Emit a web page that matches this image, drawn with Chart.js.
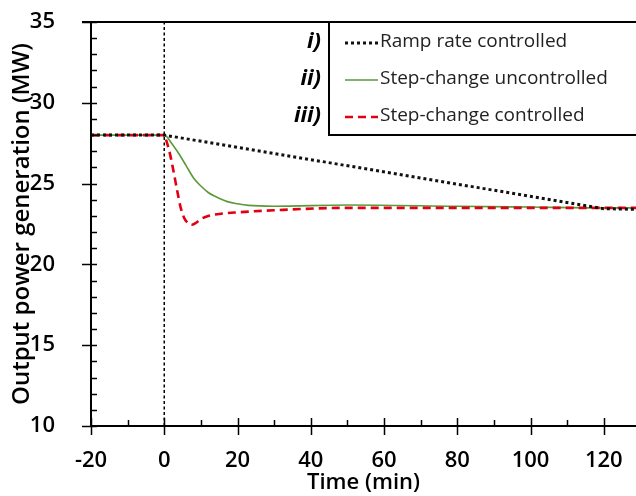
<!DOCTYPE html>
<html>
<head>
    <title>Output power generation</title>
    <script src="https://cdn.jsdelivr.net/npm/chart.js"></script>
    <style>
        html, body { margin: 0; padding: 0; background: #ffffff; }
        #wrap { width: 636px; height: 496px; }
    </style>
</head>
<body>
<div id="wrap"><canvas id="power-chart" width="636" height="496"></canvas></div>
<script>
    // values
    var rampTime = [-20, 0, 120, 130];
    var rampPower = [28, 28, 23.45, 23.4];

    var uncontrolledTime = [-20, 0, 0.5, 2, 4, 6, 8, 10, 12, 14, 17, 20, 23, 30, 50, 80, 100, 120, 130];
    var uncontrolledPower = [28, 28, 27.95, 27.5, 26.85, 26.1, 25.35, 24.85, 24.45, 24.2, 23.9, 23.75, 23.65, 23.6, 23.68, 23.6, 23.55, 23.5, 23.5];

    var controlledTime = [-20, 0, 0.5, 1.5, 2.5, 3.5, 4.5, 5.5, 6.5, 7.5, 8.5, 10, 12, 15, 20, 30, 50, 80, 100, 120, 130];
    var controlledPower = [28, 28, 27.7, 26.9, 25.8, 24.6, 23.5, 22.85, 22.55, 22.45, 22.55, 22.8, 23.0, 23.12, 23.22, 23.35, 23.5, 23.5, 23.5, 23.5, 23.5];

    var markerTime = [0, 0];
    var markerPower = [10, 35];

    var legendNumbers = ['i)', 'ii)', 'iii)'];
    var legendLabels = ['Ramp rate controlled', 'Step-change uncontrolled', 'Step-change controlled'];

    function toPoints(xs, ys) {
        return xs.map(function (x, i) { return { x: x, y: ys[i] }; });
    }

    var FONT = "'Open Sans', 'Noto Sans', sans-serif";

    // minor/major tick marks, top border and the boxed legend
    var decorations = {
        id: 'decorations',
        afterDraw: function (chart) {
            var ctx = chart.ctx;
            var area = chart.chartArea;
            var xs = chart.scales.x;
            var ys = chart.scales.y;
            ctx.save();
            ctx.strokeStyle = '#000';
            ctx.lineWidth = 1.5;

            // y ticks: every 1 minor (inside), every 5 major (across)
            for (var v = ys.min; v <= ys.max; v++) {
                var py = Math.round(ys.getPixelForValue(v)) + 0.5;
                var major = v % 5 === 0;
                ctx.beginPath();
                ctx.moveTo(area.left - (major ? 9 : 0), py);
                ctx.lineTo(area.left + 6, py);
                ctx.stroke();
            }
            // x ticks: every 10 minor (inside), every 20 major (across)
            for (var t = xs.min; t <= xs.max; t += 10) {
                var px = Math.round(xs.getPixelForValue(t)) + 0.5;
                var majorX = t % 20 === 0;
                ctx.beginPath();
                ctx.moveTo(px, area.bottom - (majorX ? 8 : 6));
                ctx.lineTo(px, area.bottom + (majorX ? 9 : 0));
                ctx.stroke();
            }

            // top border of the plot
            ctx.lineWidth = 2;
            ctx.beginPath();
            ctx.moveTo(area.left - 9, area.top);
            ctx.lineTo(area.right, area.top);
            ctx.stroke();

            // legend box
            var boxLeft = 329, boxTop = area.top, boxBottom = 135;
            ctx.beginPath();
            ctx.moveTo(chart.width + 5, boxBottom);
            ctx.lineTo(boxLeft, boxBottom);
            ctx.lineTo(boxLeft, boxTop);
            ctx.stroke();

            var rows = [42, 79, 116];
            var styles = chart.data.datasets;
            var order = [2, 0, 1];
            ctx.textBaseline = 'middle';
            for (var i = 0; i < rows.length; i++) {
                var ds = styles[order[i]];
                ctx.font = 'italic bold 22px ' + FONT;
                ctx.textAlign = 'right';
                ctx.fillStyle = '#000';
                ctx.fillText(legendNumbers[i], 321, rows[i]);

                ctx.save();
                ctx.strokeStyle = ds.borderColor;
                ctx.lineWidth = ds.borderWidth;
                ctx.setLineDash(ds.borderDash || []);
                ctx.beginPath();
                ctx.moveTo(345, rows[i] + 1);
                ctx.lineTo(378, rows[i] + 1);
                ctx.stroke();
                ctx.restore();

                ctx.font = '19px ' + FONT;
                ctx.textAlign = 'left';
                ctx.fillStyle = '#222';
                ctx.fillText(legendLabels[i], 380, rows[i]);
            }
            ctx.restore();
        }
    };

    var ctx = document.getElementById('power-chart').getContext('2d');
    var powerChart = new Chart(ctx, {
        type: 'line',
        data: {
            datasets: [{
                label: legendLabels[1],
                data: toPoints(uncontrolledTime, uncontrolledPower),
                borderColor: '#5a9a3a',
                borderWidth: 1.6,
                cubicInterpolationMode: 'monotone',
                pointRadius: 0,
                order: 3
            }, {
                label: legendLabels[2],
                data: toPoints(controlledTime, controlledPower),
                borderColor: '#e00012',
                borderWidth: 2.6,
                borderDash: [8, 5],
                cubicInterpolationMode: 'monotone',
                pointRadius: 0,
                order: 2
            }, {
                label: legendLabels[0],
                data: toPoints(rampTime, rampPower),
                borderColor: '#111',
                borderWidth: 3,
                borderDash: [3, 3],
                tension: 0,
                pointRadius: 0,
                order: 1
            }, {
                label: 'marker',
                data: toPoints(markerTime, markerPower),
                borderColor: '#000',
                borderWidth: 1.5,
                borderDash: [3, 2.5],
                pointRadius: 0,
                order: 4
            }]
        },
        options: {
            responsive: false,
            animation: false,
            layout: { padding: 0 },
            plugins: {
                legend: { display: false },
                tooltip: { enabled: false }
            },
            scales: {
                x: {
                    type: 'linear',
                    min: -20,
                    max: 128.8,
                    afterFit: function (scale) {
                        scale.height = 70;
                        scale.paddingLeft = 0;
                        scale.paddingRight = 0;
                    },
                    grid: { display: false },
                    border: { display: true, color: '#000', width: 2 },
                    ticks: {
                        stepSize: 20,
                        includeBounds: false,
                        autoSkip: false,
                        padding: 14,
                        color: '#000',
                        maxRotation: 0,
                        font: { family: FONT, size: 22, weight: '600' }
                    },
                    title: {
                        display: true,
                        text: 'Time (min)',
                        color: '#000',
                        padding: { top: 0, bottom: 0 },
                        font: { family: FONT, size: 22, weight: '600' }
                    }
                },
                y: {
                    min: 10,
                    max: 35,
                    afterFit: function (scale) {
                        scale.width = 91;
                        scale.paddingTop = 22;
                        scale.paddingBottom = 0;
                    },
                    grid: { display: false },
                    border: { display: true, color: '#000', width: 2 },
                    ticks: {
                        stepSize: 5,
                        includeBounds: false,
                        padding: 28,
                        color: '#000',
                        font: { family: FONT, size: 22, weight: '600' }
                    },
                    title: {
                        display: true,
                        text: 'Output power generation (MW)',
                        color: '#000',
                        padding: { top: 8, bottom: 0 },
                        font: { family: FONT, size: 24, weight: '600' }
                    }
                }
            }
        },
        plugins: [decorations]
    });
</script>
</body>
</html>
